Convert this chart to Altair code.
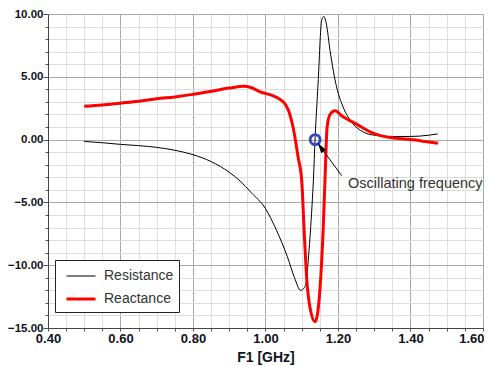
import altair as alt
import pandas as pd

# ---- data ----
res_f = [0.50, 0.55, 0.60, 0.65, 0.70, 0.75, 0.80, 0.85, 0.90, 0.93, 0.96, 1.00,
         1.03, 1.06, 1.08, 1.097, 1.107, 1.113, 1.118, 1.127, 1.132, 1.137, 1.145,
         1.155, 1.161, 1.168, 1.178, 1.196, 1.214, 1.24, 1.27, 1.30, 1.35, 1.40,
         1.45, 1.475]
res_v = [-0.15, -0.25, -0.38, -0.48, -0.62, -0.85, -1.2, -1.75, -2.6, -3.3, -4.2, -5.5,
         -7.2, -9.3, -11.0, -12.0, -11.8, -11.2, -9.6, -5.9, -3.3, 0.2, 4.45,
         9.5, 9.8, 9.2, 7.1, 4.2, 2.6, 1.3, 0.6, 0.35, 0.25, 0.25,
         0.35, 0.45]

rea_f = [0.50, 0.55, 0.60, 0.65, 0.70, 0.75, 0.80, 0.85, 0.90, 0.94, 0.96, 0.985,
         1.02, 1.04, 1.055, 1.065, 1.076, 1.09, 1.10, 1.107, 1.114, 1.123, 1.137,
         1.15, 1.159, 1.164, 1.170, 1.178, 1.192, 1.21, 1.25, 1.29, 1.32, 1.36,
         1.40, 1.44, 1.476]
rea_v = [2.65, 2.75, 2.9, 3.05, 3.25, 3.4, 3.6, 3.85, 4.1, 4.25, 4.15, 3.8,
         3.5, 3.2, 2.8, 2.2, 1.0, -1.4, -3.3, -7.5, -11.2, -13.4, -14.5,
         -12.0, -7.2, -3.3, 1.0, 2.0, 2.3, 1.9, 1.25, 0.6, 0.3, 0.1,
         0.0, -0.15, -0.3]

series_names = ["Resistance", "Reactance"]
series_colors = ["#000000", "#ff0000"]
series_widths = [1, 3]

x_ticks = [round(0.40 + 0.05 * i, 2) for i in range(25)]
y_ticks = list(range(-15, 11))

marker_f = [1.137]
marker_v = [0.0]
note_text = ["Oscillating frequency"]
note_f = [1.2276]
note_v = [-3.5]
arrow_f = [1.2102, 1.1457]
arrow_v = [-2.87, -0.34]
head_f = [1.1525]
head_v = [-0.62]

# ---- tables ----
curves = pd.concat([
    pd.DataFrame({"f": res_f, "v": res_v, "series": series_names[0], "order": range(len(res_f))}),
    pd.DataFrame({"f": rea_f, "v": rea_v, "series": series_names[1], "order": range(len(rea_f))}),
])
marker_df = pd.DataFrame({"f": marker_f, "v": marker_v})
note_df = pd.DataFrame({"f": note_f, "v": note_v, "t": note_text})
arrow_df = pd.DataFrame({"f": arrow_f, "v": arrow_v, "o": [0, 1]})
head_df = pd.DataFrame({"f": head_f, "v": head_v})

xscale = alt.Scale(domain=[0.4, 1.6], nice=False, zero=False)
yscale = alt.Scale(domain=[-15, 10], nice=False, zero=False)

xmajor = "round(datum.value*100) % 20 == 0"
ymajor = "round(datum.value) % 5 == 0"
xlast = "datum.value > 1.58"

x_axis = alt.Axis(
    values=x_ticks, title="F1 [GHz]",
    labelExpr=f"{xmajor} ? format(datum.value, '.2f') : ''",
    labelFont="Liberation Sans", labelFontSize=13, labelFontWeight="bold",
    labelColor="#111122", labelPadding=1, labelFlush=False, labelOverlap=False,
    labelAlign={"condition": {"test": xlast, "value": "right"}, "value": "center"},
    labelOffset={"condition": {"test": xlast, "value": 1}, "value": 0},
    tickSize=3, tickColor="#555555",
    gridColor={"condition": {"test": xmajor, "value": "#a8a8a8"}, "value": "#dddddd"},
    gridWidth=1, domainColor="#444444",
    titleFont="Liberation Sans", titleFontSize=14, titleFontWeight="bold",
    titleColor="#111122", titlePadding=5,
)
y_axis = alt.Axis(
    values=y_ticks, title=None,
    labelExpr=f"{ymajor} ? format(datum.value, '.2f') : ''",
    labelFont="Liberation Sans", labelFontSize=11.5, labelFontWeight="bold",
    labelColor="#111122", labelPadding=0, labelFlush=False, labelOverlap=False,
    tickSize={"condition": {"test": ymajor, "value": 5}, "value": 3}, tickColor="#555555",
    gridColor={"condition": {"test": ymajor, "value": "#a8a8a8"}, "value": "#dddddd"},
    gridWidth=1, domainColor="#444444",
)

legend_opts = dict(
    title=None, orient="none", legendX=7, legendY=246,
    fillColor="white", strokeColor="#222222", padding=5.5,
    symbolType="M-1.45,0H1.45", symbolSize=400, symbolOffset=9,
    rowPadding=4, labelOffset=11.5,
    labelFont="Liberation Sans", labelFontSize=14, labelColor="#333333",
    labelExpr="datum.label + '    '",
)


def xy():
    return dict(x=alt.X("f:Q", scale=xscale, axis=x_axis),
                y=alt.Y("v:Q", scale=yscale, axis=y_axis))


lines = alt.Chart(curves).mark_line(interpolate="monotone").encode(
    order="order:Q",
    color=alt.Color("series:N", scale=alt.Scale(domain=series_names, range=series_colors),
                    legend=alt.Legend(**legend_opts)),
    strokeWidth=alt.StrokeWidth("series:N", scale=alt.Scale(domain=series_names, range=series_widths),
                                legend=alt.Legend(**legend_opts)),
    **xy()
)

marker = alt.Chart(marker_df).mark_point(
    shape="circle", size=100, filled=False, stroke="#3344cc", strokeWidth=2.8, opacity=1
).encode(**xy())

arrow = alt.Chart(arrow_df).mark_line(color="#000000", strokeWidth=1).encode(
    order="o:Q", **xy()
)
head = alt.Chart(head_df).mark_point(
    shape="M0,-1L0.6,1L-0.6,1Z", size=100, filled=True, color="#000000", angle=323.6, opacity=1
).encode(**xy())

note = alt.Chart(note_df).mark_text(
    align="left", baseline="middle", font="Liberation Sans", fontSize=14.5, color="#333333"
).encode(text="t:N", **xy())

chart = alt.layer(lines, marker, arrow, head, note).properties(
    width=435, height=314,
    autosize=alt.AutoSizeParams(type="none"),
    padding={"left": 40, "top": 6, "right": 1, "bottom": 38},
    background="white",
).configure_view(stroke="#888888", strokeWidth=1)

chart.save("out.html", embed_options={"renderer": "svg", "actions": False})
